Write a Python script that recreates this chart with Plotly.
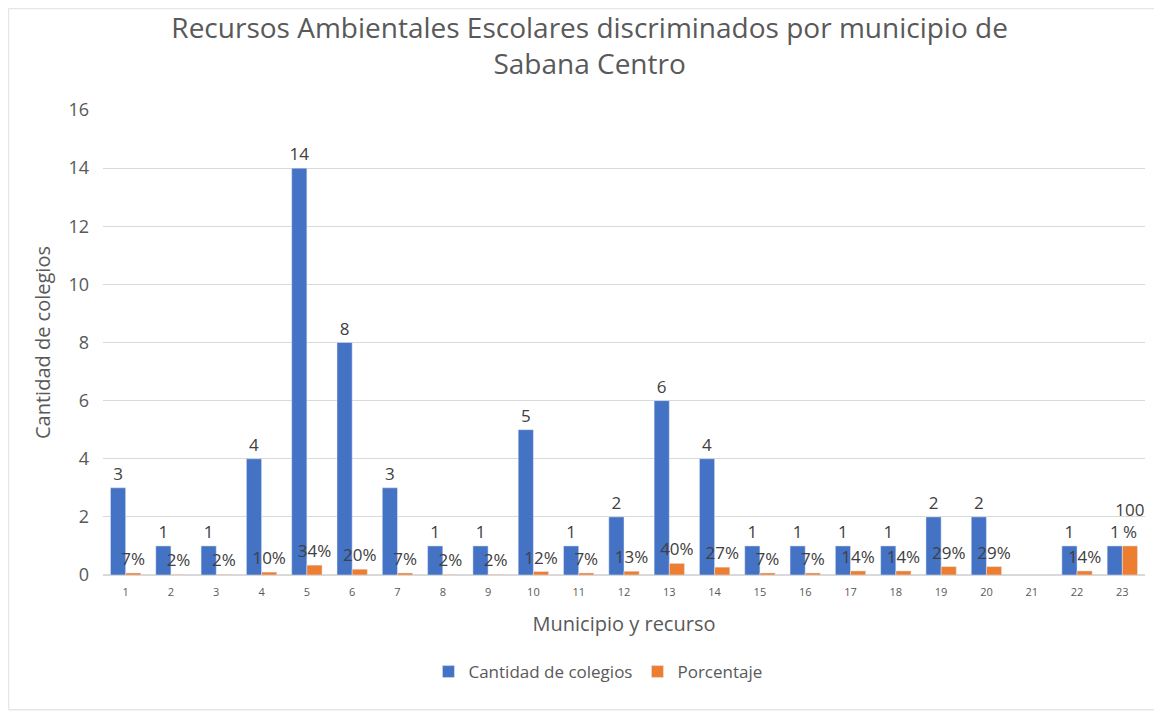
import plotly.graph_objects as go

categorias = [str(i) for i in range(1, 24)]
cantidad = [3, 1, 1, 4, 14, 8, 3, 1, 1, 5, 1, 2, 6, 4, 1, 1, 1, 1, 2, 2, None, 1, 1]
porcentaje = [0.07, 0.02, 0.02, 0.10, 0.34, 0.20, 0.07, 0.02, 0.02, 0.12, 0.07, 0.13,
              0.40, 0.27, 0.07, 0.07, 0.14, 0.14, 0.29, 0.29, None, 0.14, 1.00]
y_ticks = [0, 2, 4, 6, 8, 10, 12, 14, 16]

FONT = "Open Sans"
GRAY = "#595959"
LBL = "#404040"


def pct_label(v):
    if v is None:
        return ""
    s = f"{int(round(v * 100))}%"
    if len(s) > 3:
        s = s[:-1] + "<br>%"
    return s


cant_text = ["" if v is None else str(v) for v in cantidad]
pct_text = [pct_label(v) for v in porcentaje]

fig = go.Figure()
fig.add_trace(go.Bar(
    x=categorias, y=cantidad, name="Cantidad de colegios",
    marker=dict(color="#4472C4"),
    text=cant_text, textposition="outside", cliponaxis=False,
    constraintext="none",
    textfont=dict(family=FONT, size=17, color=LBL),
))
fig.add_trace(go.Bar(
    x=categorias, y=porcentaje, name="Porcentaje",
    marker=dict(color="#ED7D31"),
    text=pct_text, textposition="outside", cliponaxis=False,
    constraintext="none",
    textfont=dict(family=FONT, size=17, color=LBL),
))

BX0, BX1, BY0, BY1 = -0.0907, 1.1, -0.29, 1.2183
border = dict(color="#E6E6E6", width=1.5)

fig.update_layout(
    width=1154, height=703,
    paper_bgcolor="white", plot_bgcolor="white",
    barmode="group", bargap=0.33, bargroupgap=0,
    margin=dict(l=95, r=17, t=102, b=136),
    font=dict(family=FONT, color=GRAY),
    title=dict(
        text="Recursos Ambientales Escolares discriminados por municipio de<br>Sabana Centro",
        x=0.504, xanchor="center", y=0.958, yanchor="middle",
        font=dict(family=FONT, size=28, color=GRAY),
    ),
    legend=dict(
        orientation="h", x=0.475, xanchor="center", y=-0.17, yanchor="top",
        font=dict(family=FONT, size=17, color=GRAY),
    ),
    showlegend=True,
    shapes=[
        dict(type="line", xref="paper", yref="paper", x0=BX0, x1=BX0, y0=BY0, y1=BY1,
             line=border, layer="below"),
        dict(type="line", xref="paper", yref="paper", x0=BX0, x1=BX1, y0=BY1, y1=BY1,
             line=border, layer="below"),
        dict(type="line", xref="paper", yref="paper", x0=BX0, x1=BX1, y0=BY0, y1=BY0,
             line=border, layer="below"),
    ],
)

fig.update_xaxes(
    type="category", automargin=False,
    title=dict(text="Municipio y recurso", font=dict(family=FONT, size=20, color=GRAY), standoff=18),
    tickfont=dict(family=FONT, size=11, color=GRAY),
    showgrid=False, showline=True, linecolor="#D9D9D9", linewidth=1,
    ticks="", ticklabelstandoff=7,
)
fig.update_yaxes(
    range=[0, 16], tickvals=y_ticks, automargin=False,
    title=dict(text="Cantidad de colegios", font=dict(family=FONT, size=20, color=GRAY), standoff=12),
    tickfont=dict(family=FONT, size=18, color=GRAY),
    showgrid=True, gridcolor="#D9D9D9", gridwidth=1,
    zeroline=True, zerolinecolor="#D9D9D9",
    showline=False, ticks="", ticklabelstandoff=13,
)

fig.write_html("out.html")
